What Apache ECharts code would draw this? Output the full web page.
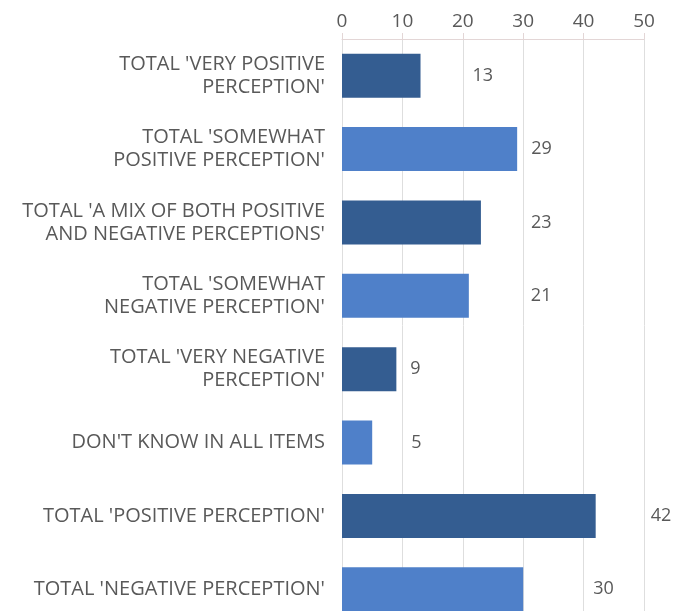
<!DOCTYPE html>
<html>
<head>
<meta charset="utf-8">
<style>
  html, body { margin: 0; padding: 0; background: #fff; }
  #chart { width: 673px; height: 611px; }
</style>
<script src="https://cdn.jsdelivr.net/npm/echarts@6/dist/echarts.min.js"></script>
</head>
<body>
<div id="chart"></div>
<script>
const categories = [
  "TOTAL 'VERY POSITIVE\nPERCEPTION'",
  "TOTAL 'SOMEWHAT\nPOSITIVE PERCEPTION'",
  "TOTAL 'A MIX OF BOTH POSITIVE\nAND NEGATIVE PERCEPTIONS'",
  "TOTAL 'SOMEWHAT\nNEGATIVE PERCEPTION'",
  "TOTAL 'VERY NEGATIVE\nPERCEPTION'",
  "DON'T KNOW IN ALL ITEMS",
  "TOTAL 'POSITIVE PERCEPTION'",
  "TOTAL 'NEGATIVE PERCEPTION'"
]
const values = [13, 29, 23, 21, 9, 5, 42, 30]
const xTicks = [0, 10, 20, 30, 40, 50]

// label gaps as placed in the original (manually moved labels)
const labelGaps = [52, 14, 50, 62, 14, 39, 55, 70]
const barColors = ['#345d91', '#4f80c9']

const chart = echarts.init(document.getElementById('chart'))

const option = {
  animation: false,
  grid: {
    left: 342,
    right: 29,
    top: 39,
    height: 587,
    containLabel: false,
    outerBoundsMode: 'none'
  },
  xAxis: {
    type: 'value',
    position: 'top',
    min: xTicks[0],
    max: xTicks[xTicks.length - 1],
    interval: 10,
    axisLine: { show: true, lineStyle: { color: '#e3d6d6', width: 1 } },
    axisTick: { show: true, length: 6, lineStyle: { color: '#e3d6d6' } },
    axisLabel: { color: '#595959', fontSize: 19, fontFamily: 'Open Sans', margin: 8 },
    splitLine: { show: true, lineStyle: { color: '#dedede', width: 1 } }
  },
  yAxis: {
    type: 'category',
    inverse: true,
    data: categories,
    axisLine: { show: false },
    axisTick: { show: false },
    axisLabel: {
      color: '#595959',
      fontSize: 20,
      fontFamily: 'Open Sans',
      lineHeight: 23,
      align: 'right',
      margin: 17
    }
  },
  series: [
    {
      type: 'bar',
      barCategoryGap: '40%',
      data: values.map((v, i) => ({
        value: v,
        itemStyle: { color: barColors[i % 2] },
        label: { distance: labelGaps[i] }
      })),
      label: {
        show: true,
        position: 'right',
        color: '#595959',
        fontSize: 18,
        fontFamily: 'Open Sans'
      }
    }
  ]
}

chart.setOption(option)
</script>
</body>
</html>
